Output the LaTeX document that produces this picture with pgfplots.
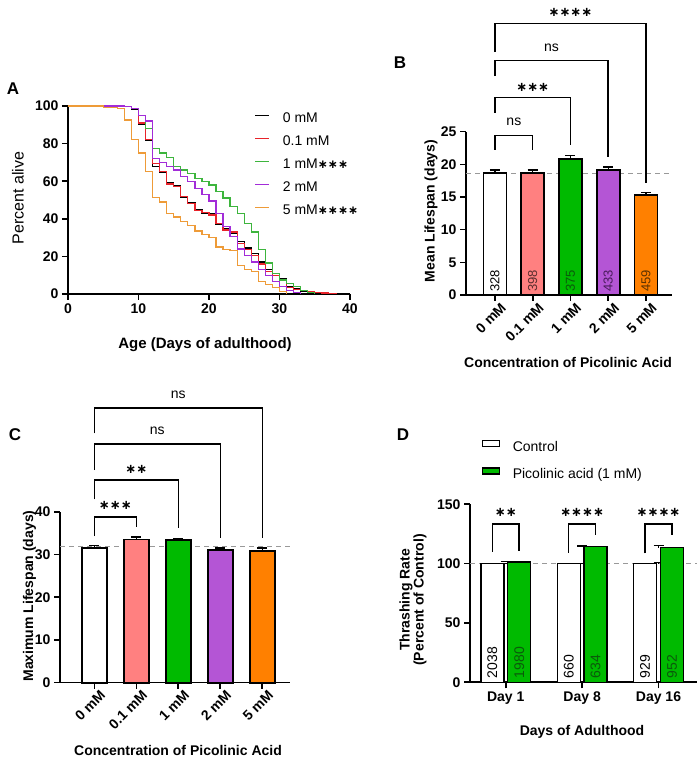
\documentclass[border=0pt]{standalone}
\usepackage{pgfplots}
\pgfplotsset{compat=1.18}
\usepackage{fontspec}
\setmainfont{Liberation Sans}
\newfontfamily\djv{DejaVu Sans}

\newcommand{\fs}[1]{\fontsize{#1}{#1}\selectfont}
\newcommand{\stars}[1]{{\djv\bfseries #1}}

\definecolor{lRed}{HTML}{E8232A}
\definecolor{lGreen}{HTML}{3DB53D}
\definecolor{lPurple}{HTML}{A22CD8}
\definecolor{lOrange}{HTML}{EE9B38}
\definecolor{bSalmon}{HTML}{FF8080}
\definecolor{bGreen}{HTML}{00BA00}
\definecolor{bPurple}{HTML}{B455D5}
\definecolor{bOrange}{HTML}{FF8000}
\definecolor{nRed}{HTML}{5A2E2E}
\definecolor{nGreen}{HTML}{0B5A0B}
\definecolor{nPurple}{HTML}{4A1C5C}
\definecolor{nOrange}{HTML}{5C3200}
\definecolor{refgray}{HTML}{999999}

\pgfplotsset{
  prism/.style={
    scale only axis, clip=false,
    axis x line*=bottom, axis y line*=left,
    axis line style={line width=1.6pt, black, -},
    tick align=outside, major tick length=6pt,
    every tick/.style={line width=1.6pt, black},
    tick label style={font=\fs{14}\bfseries},
    /pgf/number format/assume math mode=true,
  },
  bars/.style={ybar, bar shift=0pt, draw=black, line width=1.8pt,
    error bars/y dir=plus, error bars/y explicit,
    error bars/error bar style={line width=1.2pt, black},
    error bars/error mark options={rotate=90, mark size=5pt, line width=1.2pt, black}},
}
\tikzset{
  sig/.style={line width=1.5pt, black},
  nlab/.style={rotate=90, anchor=west, font=\fs{13}, inner sep=0pt},
  refline/.style={refgray, line width=1.4pt, dash pattern=on 5pt off 4pt},
}

\begin{document}
\begin{tikzpicture}
\useasboundingbox (0pt,0pt) rectangle (700pt,760pt);

% ---------------- A: survival curves ----------------
\begin{axis}[prism, at={(68pt,466pt)}, anchor=south west,
  width=282pt, height=188pt,
  xmin=0, xmax=40, ymin=0, ymax=100,
  xtick={0,10,20,30,40}, ytick={0,20,40,60,80,100},
  legend style={draw=none, fill=none, font=\fs{14},
    at={(rel axis cs:0.65,0.975)}, anchor=north west,
    nodes={inner sep=0pt, text height=10pt, text depth=3pt},
    row sep=10pt,
    /tikz/every odd column/.append style={column sep=13pt}},
  legend cell align=left,
  legend image code/.code={\draw[#1, line width=1.4pt] (0pt,4pt) -- (14pt,4pt);},
]
\addplot[const plot, black, line width=1.3pt] coordinates {
 (0,100) (8,99.7) (9,98) (10,90.5) (11,81.5) (12,68) (13,64.5) (14,59)
 (15,57.5) (16,51.5) (17,48.5) (18,45) (19,43) (20,42.5) (21,37) (22,34.5)
 (23,32) (24,28) (25,24.5) (26,21.5) (27,17) (28,13) (29,11) (30,8)
 (31,4) (32,3) (33,1.5) (34,0.5) (35,0)};
\addlegendentry{0 mM}
\addplot[const plot, lRed, line width=1.3pt] coordinates {
 (0,100) (8,99.7) (9,98.5) (10,91) (11,82) (12,69.5) (13,65) (14,58.5)
 (15,57) (16,52) (17,48) (18,44.5) (19,43.5) (20,42) (21,37.5) (22,34)
 (23,33) (24,27) (25,23.5) (26,20.5) (27,16) (28,12) (29,10) (30,7)
 (31,3.5) (32,2.5) (33,2) (34,1.2) (35,0.8) (36,0.5) (37,0.3) (38,0)};
\addlegendentry{0.1 mM}
\addplot[const plot, lGreen, line width=1.3pt] coordinates {
 (0,100) (8,99.8) (9,98.5) (10,95) (11,88) (12,77.5) (13,75) (14,72.5)
 (15,68) (16,66) (17,64) (18,61.5) (19,60) (20,58) (21,54.5) (22,51)
 (23,46.5) (24,43) (25,37.5) (26,33) (27,23.5) (28,16.5) (29,11) (30,7.5)
 (31,5.5) (32,4) (33,2) (34,0.8) (35,0)};
\addlegendentry{1 mM\stars{\fs{12}∗∗∗}}
\addplot[const plot, lPurple, line width=1.3pt] coordinates {
 (0,100) (8,99.8) (9,98.5) (10,95) (11,92) (12,72) (13,70) (14,68)
 (15,66) (16,62.5) (17,60) (18,56) (19,53) (20,49.5) (21,43) (22,36)
 (23,30.5) (24,24) (25,20.5) (26,17) (27,13) (28,10) (29,6.5) (30,4)
 (31,2) (32,0.7) (33,0)};
\addlegendentry{2 mM}
\addplot[const plot, lOrange, line width=1.3pt] coordinates {
 (0,100) (5,99.3) (7,98.5) (8,92.5) (9,82) (10,75) (11,65) (12,51.5)
 (13,49) (14,43) (15,41) (16,38.5) (17,36.5) (18,33.5) (19,31.5) (20,30)
 (21,25) (22,23.5) (23,23) (24,15) (25,13) (26,12) (27,6.5) (28,5)
 (29,3.5) (30,1.2) (31,0)};
\addlegendentry{5 mM\stars{\fs{12}∗∗∗∗}}
\end{axis}

% ---------------- B: mean lifespan ----------------
\begin{axis}[prism, at={(466pt,465pt)}, anchor=south west,
  width=206pt, height=163.3pt,
  xmin=-0.768, xmax=4.69, ymin=0, ymax=25,
  ytick={0,5,10,15,20,25}, xtick={0,1,2,3,4},
  xticklabels={0 mM,0.1 mM,1 mM,2 mM,5 mM},
  xticklabel style={rotate=45, anchor=north east, inner sep=1pt, xshift=4pt, yshift=-3pt},
]
\draw[refline] (axis cs:-0.768,18.6) -- (axis cs:4.69,18.6);
\addplot[bars, fill=white, bar width=23pt] coordinates {(0,18.65) +- (0,0.5)};
\addplot[bars, fill=bSalmon, bar width=23pt] coordinates {(1,18.7) +- (0,0.45)};
\addplot[bars, fill=bGreen, bar width=23pt] coordinates {(2,20.85) +- (0,0.45)};
\addplot[bars, fill=bPurple, bar width=23pt] coordinates {(3,19.15) +- (0,0.45)};
\addplot[bars, fill=bOrange, bar width=23pt] coordinates {(4,15.3) +- (0,0.4)};
\node[nlab, black] at (axis cs:0,0.45) {328};
\node[nlab, nRed] at (axis cs:1,0.45) {398};
\node[nlab, nGreen] at (axis cs:2,0.45) {375};
\node[nlab, nPurple] at (axis cs:3,0.45) {433};
\node[nlab, nOrange] at (axis cs:4,0.45) {459};
% comparisons against 0 mM
\draw[sig] (axis cs:0,22.2) |- (axis cs:1,24.4) -- (axis cs:1,22.2);
\node[font=\fs{14}] at (axis cs:0.5,26.5) {ns};
\draw[sig] (axis cs:0,27.9) |- (axis cs:2,30.2) -- (axis cs:2,23.0);
\node at (axis cs:1,31.8) {\stars{\fs{13}∗∗∗}};
\draw[sig] (axis cs:0,33.5) |- (axis cs:3,35.9) -- (axis cs:3,21.2);
\node[font=\fs{14}] at (axis cs:1.5,37.9) {ns};
\draw[sig] (axis cs:0,37.2) |- (axis cs:4,41.6) -- (axis cs:4,17.1);
\node at (axis cs:2,43.2) {\stars{\fs{13}∗∗∗∗}};
\end{axis}

% ---------------- C: maximum lifespan ----------------
\begin{axis}[prism, at={(60pt,77.3pt)}, anchor=south west,
  width=230pt, height=171pt,
  xmin=-0.817, xmax=4.66, ymin=0, ymax=40,
  ytick={0,10,20,30,40}, xtick={0,1,2,3,4},
  xticklabels={0 mM,0.1 mM,1 mM,2 mM,5 mM},
  xticklabel style={rotate=45, anchor=north east, inner sep=1pt, xshift=4pt, yshift=-3pt},
]
\draw[refline] (axis cs:-0.817,31.8) -- (axis cs:4.66,31.8);
\addplot[bars, fill=white, bar width=25pt] coordinates {(0,31.6) +- (0,0.4)};
\addplot[bars, fill=bSalmon, bar width=25pt] coordinates {(1,33.5) +- (0,0.6)};
\addplot[bars, fill=bGreen, bar width=25pt] coordinates {(2,33.3) +- (0,0.4)};
\addplot[bars, fill=bPurple, bar width=25pt] coordinates {(3,31.0) +- (0,0.5)};
\addplot[bars, fill=bOrange, bar width=25pt] coordinates {(4,30.9) +- (0,0.6)};
\draw[sig] (axis cs:0,34.3) |- (axis cs:1,38.8) -- (axis cs:1,36.5);
\node at (axis cs:0.5,41.4) {\stars{\fs{13}∗∗∗}};
\draw[sig] (axis cs:0,42.9) |- (axis cs:2,47.4) -- (axis cs:2,36.1);
\node at (axis cs:1,50) {\stars{\fs{13}∗∗}};
\draw[sig] (axis cs:0,49.7) |- (axis cs:3,55.8) -- (axis cs:3,33.9);
\node[font=\fs{14}] at (axis cs:1.5,58.9) {ns};
\draw[sig] (axis cs:0,58.3) |- (axis cs:4,64.3) -- (axis cs:4,33.8);
\node[font=\fs{14}] at (axis cs:2,67.3) {ns};
\end{axis}

% ---------------- D: thrashing rate ----------------
\begin{axis}[prism, at={(470pt,77.7pt)}, anchor=south west,
  width=226.7pt, height=178pt,
  xmin=-0.468, xmax=2.5, ymin=0, ymax=150,
  ytick={0,50,100,150}, xtick={0,1,2},
  xticklabels={Day 1,Day 8,Day 16},
  legend style={draw=none, fill=none, font=\fs{14},
    at={(rel axis cs:0.037,1.372)}, anchor=north west,
    nodes={inner sep=0pt, text height=10pt, text depth=3pt},
    row sep=13pt,
    /tikz/every odd column/.append style={column sep=13pt}},
  legend cell align=left,
  legend image code/.code={\draw[#1, line width=1.2pt] (0pt,1pt) rectangle (17pt,7pt);},
]
\draw[refline] (axis cs:-0.468,100) -- (axis cs:2.5,100);
\addplot[bars, fill=white, bar width=23pt, bar shift=-13.4pt, line width=1.3pt]
  coordinates {(0,100) +- (0,0.3) (1,100) +- (0,0.3) (2,100) +- (0,0.8)};
\addlegendentry{Control}
\addplot[bars, fill=bGreen, bar width=23pt, bar shift=13.4pt, line width=1.3pt]
  coordinates {(0,101.5) +- (0,0.5) (1,114.5) +- (0,0.4) (2,113.5) +- (0,1.5)};
\addlegendentry{Picolinic acid (1 mM)}
\node[nlab, font=\fs{14}, black] at (axis cs:-0.176,3.4) {2038};
\node[nlab, font=\fs{14}, nGreen] at (axis cs:0.176,3.4) {1980};
\node[nlab, font=\fs{14}, black] at (axis cs:0.824,3.4) {660};
\node[nlab, font=\fs{14}, nGreen] at (axis cs:1.176,3.4) {634};
\node[nlab, font=\fs{14}, black] at (axis cs:1.824,3.4) {929};
\node[nlab, font=\fs{14}, nGreen] at (axis cs:2.176,3.4) {952};
\draw[sig] (axis cs:-0.176,110.1) |- (axis cs:0.176,133.4) -- (axis cs:0.176,111);
\node at (axis cs:0,143) {\stars{\fs{13}∗∗}};
\draw[sig] (axis cs:0.824,109.3) |- (axis cs:1.176,133.4) -- (axis cs:1.176,124.2);
\node at (axis cs:1,143) {\stars{\fs{13}∗∗∗∗}};
\draw[sig] (axis cs:1.824,108.7) |- (axis cs:2.176,133.4) -- (axis cs:2.176,124.2);
\node at (axis cs:2,143) {\stars{\fs{13}∗∗∗∗}};
\end{axis}

% ---------------- panel letters and axis titles ----------------
\node[font=\fs{17}\bfseries] at (13pt,671pt) {A};
\node[font=\fs{17}\bfseries] at (400pt,697pt) {B};
\node[font=\fs{17}\bfseries] at (15pt,325pt) {C};
\node[font=\fs{17}\bfseries] at (403pt,325pt) {D};

\node[font=\fs{16}, rotate=90] at (18pt,562pt) {Percent alive};
\node[font=\fs{15}\bfseries] at (205pt,415pt) {Age (Days of adulthood)};

\node[font=\fs{14}\bfseries, rotate=90] at (431pt,549pt) {Mean Lifespan (days)};
\node[font=\fs{14}\bfseries] at (568pt,397pt) {Concentration of Picolinic Acid};

\node[font=\fs{14}\bfseries, rotate=90] at (29.5pt,164pt) {Maximum Lifespan (days)};
\node[font=\fs{14}\bfseries] at (178pt,10pt) {Concentration of Picolinic Acid};

\node[font=\fs{14}\bfseries, rotate=90, align=center] at (413pt,160pt) {Thrashing Rate\\(Percent of Control)};
\node[font=\fs{14}\bfseries] at (582pt,28pt) {Days of Adulthood};
\end{tikzpicture}
\end{document}
